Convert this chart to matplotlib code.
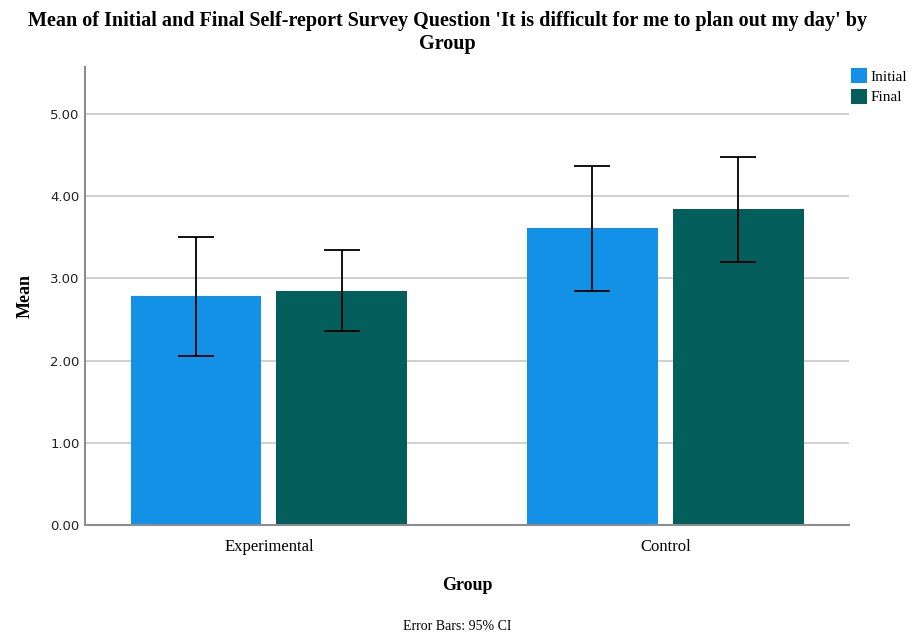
import matplotlib.pyplot as plt
import numpy as np
from matplotlib.patches import Patch

# Group means with 95% confidence limits
groups = ['Experimental', 'Control']
initial_mean = [2.78, 3.61]
initial_lo = [2.06, 2.85]
initial_hi = [3.50, 4.37]
final_mean = [2.85, 3.84]
final_lo = [2.36, 3.20]
final_hi = [3.35, 4.48]
yticks = [0, 1, 2, 3, 4, 5]

c_initial = '#1391e6'
c_final = '#035e5c'
serif = 'Liberation Serif'

fig = plt.figure(figsize=(9.15, 6.36), dpi=100)
ax = fig.add_axes([85 / 915, 1 - 525 / 636, 764 / 915, 458 / 636])

x = np.arange(len(groups))
w = 0.33
off = 0.184

for means, lo, hi, shift, col in [(initial_mean, initial_lo, initial_hi, -off, c_initial),
                                  (final_mean, final_lo, final_hi, off, c_final)]:
    means = np.array(means)
    yerr = [means - np.array(lo), np.array(hi) - means]
    ax.bar(x + shift, means, width=w, color=col, zorder=2)
    ax.errorbar(x + shift, means, yerr=yerr, fmt='none', ecolor='black',
                elinewidth=1.3, capsize=13, capthick=1.3, zorder=3)

ax.set_xlim(-0.464, 1.463)
ax.set_ylim(0, 5.57)
ax.set_yticks(yticks)
ax.set_yticklabels(['%.2f' % t for t in yticks], fontsize=9.5, color='#222222')
ax.set_xticks(x)
ax.set_xticklabels(groups, fontsize=12, fontfamily=serif)
ax.tick_params(axis='both', length=0, pad=4)
ax.tick_params(axis='x', pad=10)

ax.yaxis.grid(True, color='#c8c8c8', linewidth=1.2, zorder=0)
ax.set_axisbelow(True)
for s in ('top', 'right'):
    ax.spines[s].set_visible(False)
for s in ('left', 'bottom'):
    ax.spines[s].set_color('#8c8c8c')
    ax.spines[s].set_linewidth(1.5)

ax.set_ylabel('Mean', fontsize=13, fontweight='bold', fontfamily=serif, labelpad=12)
ax.set_xlabel('Group', fontsize=13, fontweight='bold', fontfamily=serif, labelpad=16)

fig.suptitle("Mean of Initial and Final Self-report Survey Question 'It is difficult for me to plan out my day' by\nGroup",
             x=0.489, y=0.983, fontsize=14.5, fontweight='bold', fontfamily=serif,
             linespacing=1.2)

fig.text(0.5, 0.004, 'Error Bars: 95% CI', ha='center', va='bottom',
         fontsize=10, fontfamily=serif)

handles = [Patch(facecolor=c_initial, label='Initial'),
           Patch(facecolor=c_final, label='Final')]
fig.legend(handles=handles, loc='upper left', bbox_to_anchor=(851 / 915, 1 - 68 / 636),
           frameon=False, prop={'family': serif, 'size': 11},
           handlelength=1.05, handleheight=1.1, handletextpad=0.25,
           labelspacing=0.35, borderpad=0, borderaxespad=0)

fig.savefig('out.png', dpi=100)
